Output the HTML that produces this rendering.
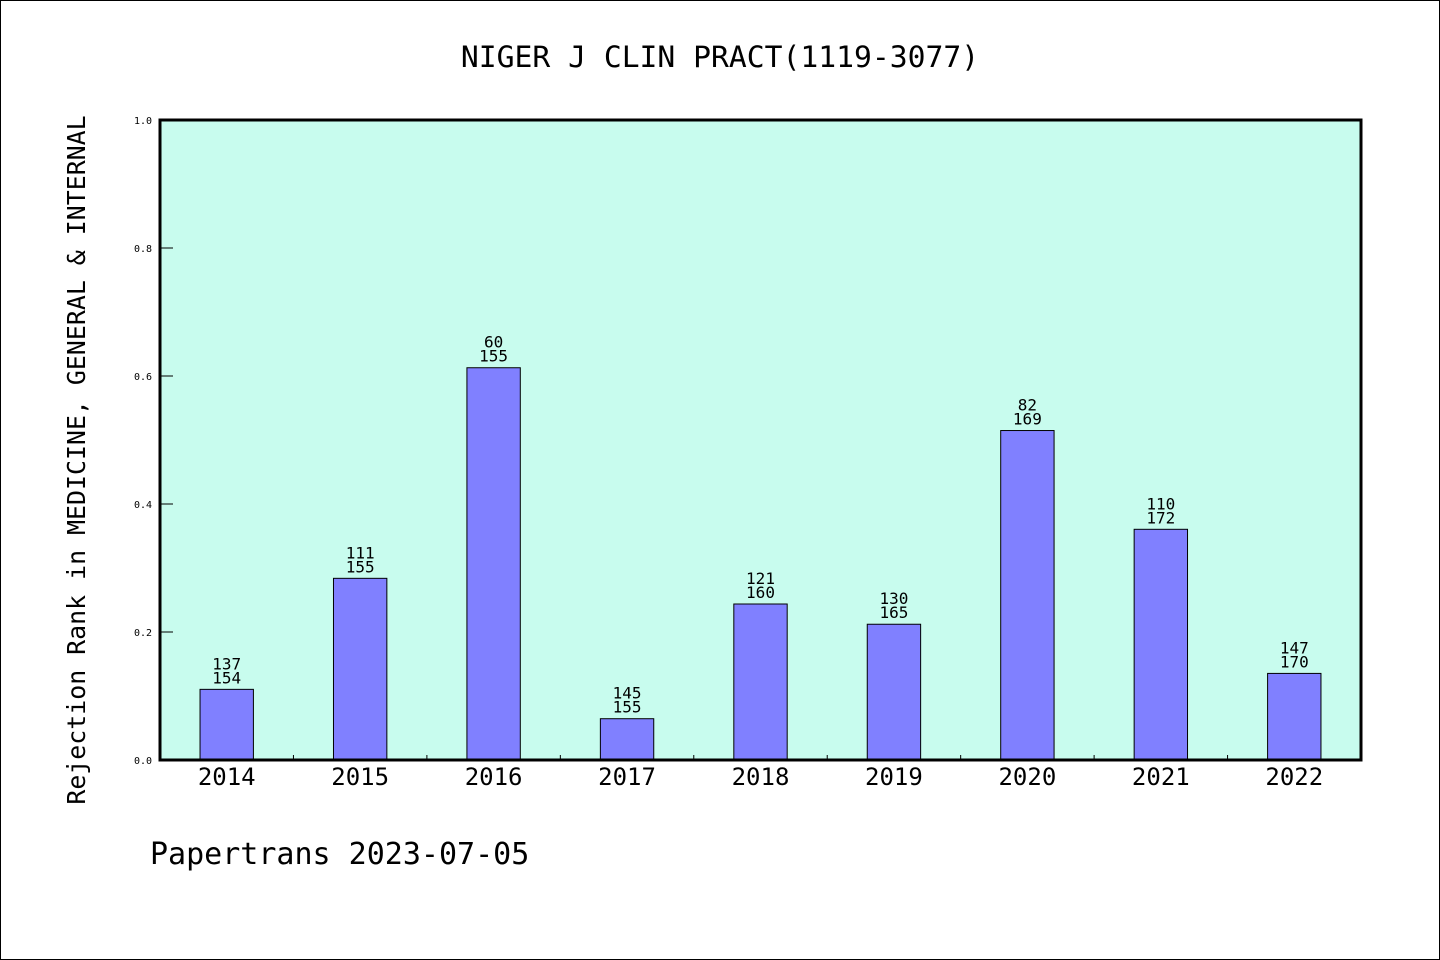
<!DOCTYPE html>
<html><head><meta charset="utf-8"><style>
html,body{margin:0;padding:0;background:#fff}
svg{display:block;font-family:"DejaVu Sans Mono","Liberation Mono",monospace}
</style></head><body>
<svg id="chart" width="1440" height="960" viewBox="0 0 1440 960" xmlns="http://www.w3.org/2000/svg">
<rect x="0.5" y="0.5" width="1439" height="959" fill="#fff" stroke="#000" stroke-width="1"/>
<text x="720" y="67" text-anchor="middle" font-size="29.7">NIGER J CLIN PRACT(1119-3077)</text>
<rect x="160" y="120" width="1201" height="640" fill="#c8fcee"/>
<g id="bars"></g>
<g id="ticks"></g>
<rect x="160" y="120" width="1201" height="640" fill="none" stroke="#000" stroke-width="3"/>
<text transform="translate(85,460) rotate(-90)" text-anchor="middle" font-size="24.9">Rejection Rank in MEDICINE, GENERAL &amp; INTERNAL</text>
<text x="150" y="864" font-size="30">Papertrans 2023-07-05</text>
</svg>
<script>
const years = ['2014','2015','2016','2017','2018','2019','2020','2021','2022'];
const ranks = [137,111,60,145,121,130,82,110,147];
const totals = [154,155,155,155,160,165,169,172,170];
const yTicks = [0,0.2,0.4,0.6,0.8,1.0];
const NS='http://www.w3.org/2000/svg';
const X0=160,W=1201,Y0=760,H=640;
const slot=W/years.length;
const xc=i=>X0+slot*(i+0.5);
const y=v=>Y0-v*H;
const bars=document.getElementById('bars'),ticks=document.getElementById('ticks');
function mk(tag,attrs,parent){const e=document.createElementNS(NS,tag);for(const k in attrs)e.setAttribute(k,attrs[k]);parent.appendChild(e);return e;}
years.forEach((yr,i)=>{
  const v=1-ranks[i]/totals[i];
  const bw=slot*0.4;
  const r=mk('rect',{x:xc(i)-bw/2,y:y(v),width:bw,height:Y0-y(v),fill:'#8080ff',stroke:'#000','stroke-width':1},bars);
  
  
  const t1=mk('text',{x:xc(i),y:y(v)-20,'text-anchor':'middle','font-size':16},bars);t1.textContent=ranks[i];
  
  
  const t2=mk('text',{x:xc(i),y:y(v)-6,'text-anchor':'middle','font-size':16},bars);t2.textContent=totals[i];
  
  
  const xl=mk('text',{x:xc(i),y:785,'text-anchor':'middle','font-size':24},ticks);xl.textContent=yr;
  
  
  if(i>0){const tk=mk('line',{x1:X0+slot*i,x2:X0+slot*i,y1:Y0,y2:Y0-5,stroke:'#000','stroke-width':1},ticks);
  
  }
});
yTicks.forEach(v=>{
  const tk=mk('line',{x1:X0,x2:X0+13,y1:y(v),y2:y(v),stroke:'#000','stroke-width':1},ticks);
  
  
  const t=mk('text',{x:152,y:y(v)+4,'text-anchor':'end','font-size':10},ticks);t.textContent=v.toFixed(1);
  
  
});
</script>
</body></html>
